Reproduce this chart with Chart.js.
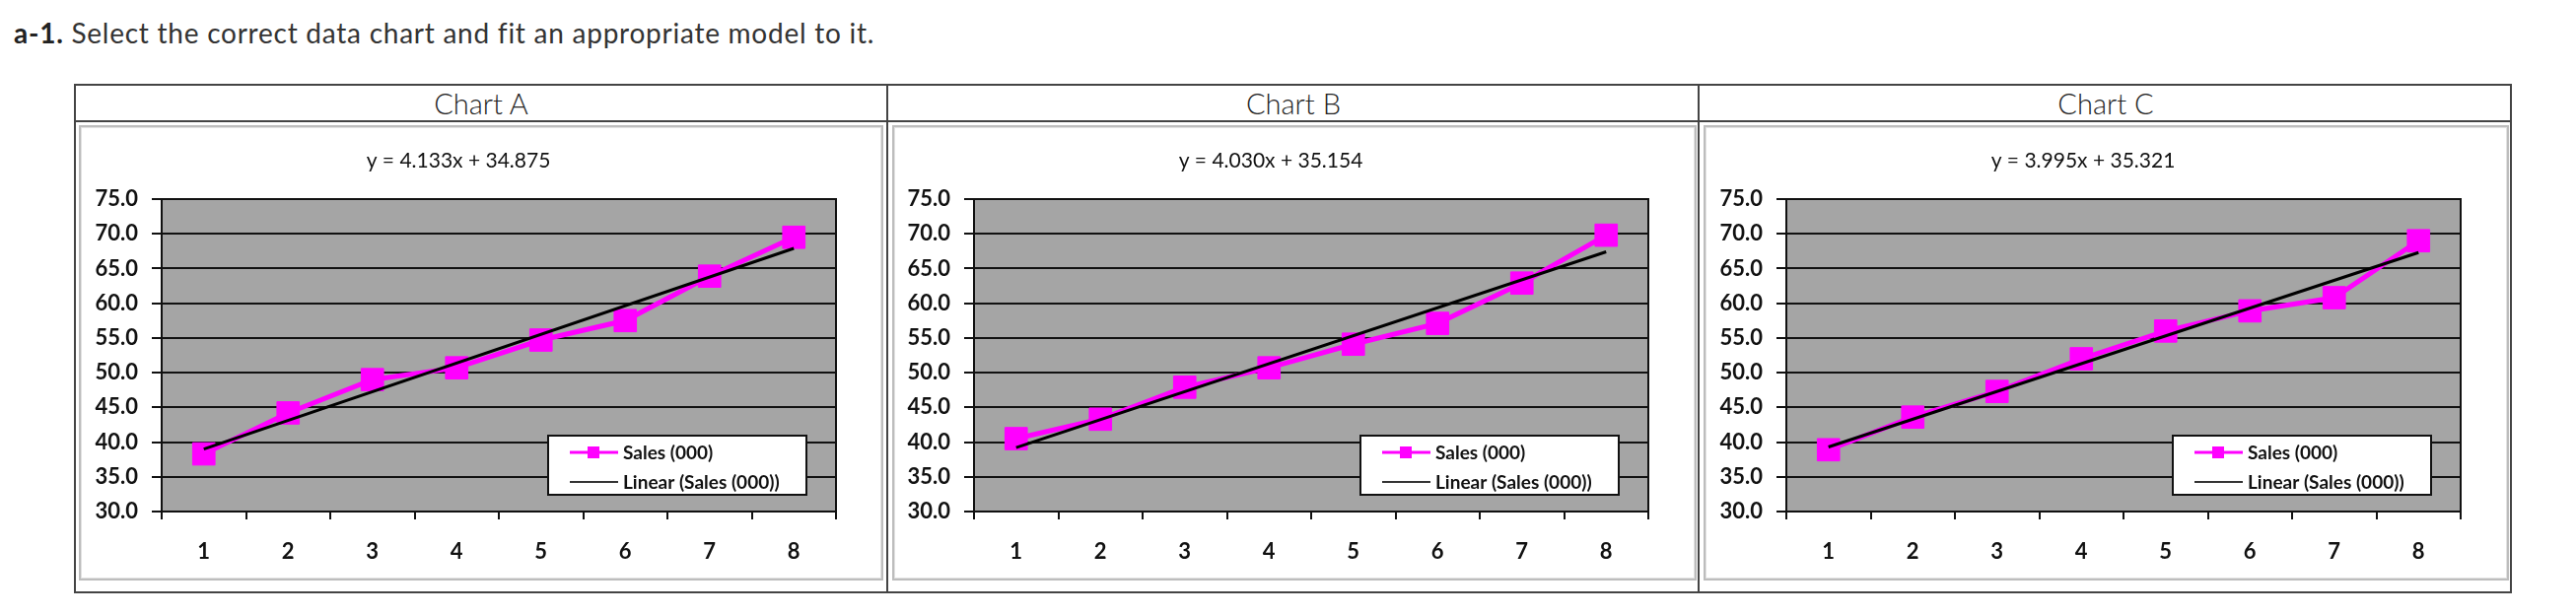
<!DOCTYPE html>
<html>
<head>
<meta charset="utf-8">
<script src="https://cdn.jsdelivr.net/npm/chart.js@4.4.1/dist/chart.umd.min.js"></script>
<style>
  html, body { margin: 0; padding: 0; background: #fff; }
  body { width: 2613px; height: 625px; position: relative; overflow: hidden; font-family: Lato, 'Open Sans', sans-serif; }
  .title { position: absolute; left: 14px; top: 17px; font-size: 28px; letter-spacing: 0.75px; line-height: 32px; color: #333; white-space: nowrap; }
  .title b { color: #222; }
  .outer { position: absolute; left: 75px; top: 85px; width: 2473px; height: 517px; border: 2px solid #444; box-sizing: border-box; }
  .hline { position: absolute; left: 75px; top: 122px; width: 2473px; height: 2px; background: #444; }
  .vline { position: absolute; top: 85px; width: 2px; height: 517px; background: #444; }
  .head { position: absolute; top: 87px; height: 35px; line-height: 35px; text-align: center; font-size: 29px; font-weight: 300; color: #222; }
  .frame { position: absolute; top: 127px; height: 462px; border: 2px solid #bdbdbd; box-shadow: inset 0 0 0 1px #e2e2e2; box-sizing: border-box; }
  canvas { position: absolute; top: 132px; }
</style>
</head>
<body>
<div class="title"><b>a-1.</b> Select the correct data chart and fit an appropriate model to it.</div>

<div class="outer"></div>
<div class="hline"></div>
<div class="vline" style="left:899px"></div>
<div class="vline" style="left:1722px"></div>

<div class="head" id="headA" style="left:76px;width:824px"></div>
<div class="head" id="headB" style="left:901px;width:822px"></div>
<div class="head" id="headC" style="left:1724px;width:824px"></div>

<div class="frame" style="left:80px;width:816px"></div>
<div class="frame" style="left:905px;width:816px"></div>
<div class="frame" style="left:1728px;width:817px"></div>

<canvas id="chartA" width="804" height="452" style="left:84px"></canvas>
<canvas id="chartB" width="804" height="452" style="left:908px"></canvas>
<canvas id="chartC" width="804" height="452" style="left:1732px"></canvas>

<script>
// ── Data ──────────────────────────────────
const categories  = ['1', '2', '3', '4', '5', '6', '7', '8'];
const chartTitles = ['Chart A', 'Chart B', 'Chart C'];
const seriesNames = ['Sales (000)', 'Linear (Sales (000))'];

const salesA = [38.3, 44.2, 49.0, 50.7, 54.7, 57.5, 63.9, 69.5];
const salesB = [40.5, 43.3, 47.9, 50.7, 54.1, 57.1, 62.9, 69.8];
const salesC = [38.9, 43.6, 47.3, 52.0, 56.0, 58.9, 60.8, 69.0];

// trend lines: only the two end points, joined straight
const trendA = [39.0, null, null, null, null, null, null, 67.9];
const trendB = [39.2, null, null, null, null, null, null, 67.4];
const trendC = [39.3, null, null, null, null, null, null, 67.3];

const equations = ['y = 4.133x + 34.875', 'y = 4.030x + 35.154', 'y = 3.995x + 35.321'];

const yMin = 30, yMax = 75, yStep = 5;

// ── Styles ────────────────────────────────
const MAGENTA  = '#ff00ff';
const PLOT_BG  = '#a5a5a5';
const INK      = '#111';
const FONT     = 'Lato';

// ── Plot area background, border, equation, legend ──
const excelLook = {
  id: 'excelLook',
  beforeDraw(chart) {
    const { ctx, chartArea: a } = chart;
    ctx.save();
    ctx.fillStyle = PLOT_BG;
    ctx.fillRect(a.left, a.top, a.width, a.height);
    ctx.restore();
  },
  beforeDatasetsDraw(chart) {
    const { ctx, chartArea: a } = chart;
    ctx.save();
    ctx.strokeStyle = INK;
    ctx.lineWidth = 2;
    ctx.strokeRect(a.left, a.top, a.width, a.height);
    ctx.restore();
  },
  afterDraw(chart, args, opts) {
    const { ctx, chartArea: a } = chart;
    ctx.save();

    // equation label
    ctx.font = `21px ${FONT}`;
    ctx.fillStyle = INK;
    ctx.textAlign = 'center';
    ctx.textBaseline = 'middle';
    ctx.fillText(opts.equation, a.left + 301, 31);

    // legend box inside the plot
    const w = 262, h = 60;
    const x = a.right - 30 - w, y = 310;
    ctx.fillStyle = '#fff';
    ctx.fillRect(x, y, w, h);
    ctx.strokeStyle = INK;
    ctx.lineWidth = 2;
    ctx.strokeRect(x, y, w, h);

    const rows = chart.data.datasets.map(ds => ({
      label: ds.label,
      color: ds.borderColor,
      marker: ds.pointStyle === 'rect'
    }));
    ctx.font = `bold 19px ${FONT}`;
    ctx.textAlign = 'left';
    rows.forEach((r, i) => {
      const ry = y + 17 + i * 30;
      ctx.strokeStyle = r.marker ? r.color : '#333';
      ctx.lineWidth = r.marker ? 3 : 2;
      ctx.beginPath();
      ctx.moveTo(x + 22, ry);
      ctx.lineTo(x + 71, ry);
      ctx.stroke();
      if (r.marker) {
        ctx.fillStyle = r.color;
        ctx.fillRect(x + 40, ry - 6, 12, 12);
      }
      ctx.fillStyle = INK;
      ctx.fillText(r.label, x + 76, ry + 1);
    });
    ctx.restore();
  }
};

// ── Build one chart ───────────────────────
function createChart(canvasId, sales, trend, equation) {
  const canvas = document.getElementById(canvasId);
  return new Chart(canvas, {
    type: 'line',
    data: {
      labels: categories,
      datasets: [
        {
          label:           seriesNames[0],
          data:            sales,
          borderColor:     MAGENTA,
          backgroundColor: MAGENTA,
          borderWidth:     5,
          tension:         0,
          pointStyle:      'rect',
          pointRadius:     16,
          pointBorderWidth: 1,
          pointBackgroundColor: MAGENTA,
          pointBorderColor:     MAGENTA,
          order: 1
        },
        {
          label:       seriesNames[1],
          data:        trend,
          borderColor: '#000',
          borderWidth: 3,
          pointRadius: 0,
          spanGaps:    true,
          tension:     0,
          order: 0
        }
      ]
    },
    options: {
      responsive: false,
      animation: false,
      devicePixelRatio: 1,
      events: [],
      layout: { padding: { left: 0, top: 70, right: 40, bottom: 0 } },
      plugins: {
        legend:  { display: false },
        tooltip: { enabled: false },
        excelLook: { equation }
      },
      scales: {
        x: {
          type: 'category',
          offset: true,
          afterFit: (s) => { s.height = 65; },
          grid: {
            offset: true,
            drawOnChartArea: false,
            drawTicks: true,
            tickLength: 8,
            color: INK,
            lineWidth: 2
          },
          border: { color: INK, width: 2 },
          ticks: {
            color: INK,
            padding: 20,
            maxRotation: 0,
            autoSkip: false,
            font: { family: FONT, size: 22, weight: 'bold' }
          }
        },
        y: {
          min: yMin,
          max: yMax,
          afterFit: (s) => { s.width = 80; },
          grid: {
            color: INK,
            lineWidth: 2,
            drawTicks: true,
            tickLength: 10
          },
          border: { color: INK, width: 2 },
          ticks: {
            stepSize: yStep,
            color: INK,
            padding: 14,
            font: { family: FONT, size: 22, weight: 'bold' },
            callback: (v) => Number(v).toFixed(1)
          }
        }
      }
    },
    plugins: [excelLook]
  });
}

document.getElementById('headA').textContent = chartTitles[0];
document.getElementById('headB').textContent = chartTitles[1];
document.getElementById('headC').textContent = chartTitles[2];

createChart('chartA', salesA, trendA, equations[0]);
createChart('chartB', salesB, trendB, equations[1]);
createChart('chartC', salesC, trendC, equations[2]);
</script>
</body>
</html>
